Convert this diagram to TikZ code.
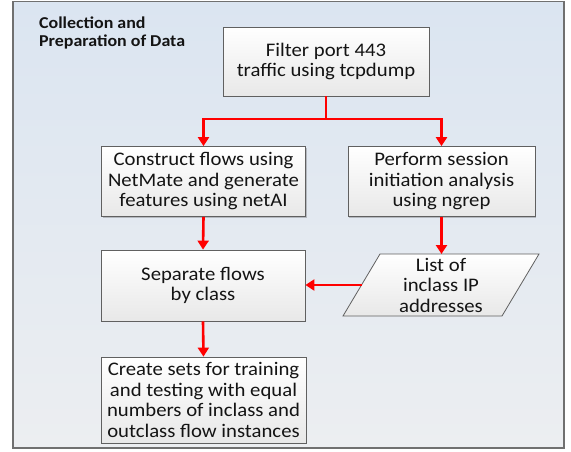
\documentclass[tikz,border=0pt]{standalone}
\usepackage{fontspec}
\setmainfont{Carlito}[FakeStretch=1.08]
\usetikzlibrary{arrows.meta,shadows,calc}
\definecolor{bgtop}{RGB}{219,229,241}
\definecolor{bgbot}{RGB}{236,238,241}
\definecolor{framegray}{RGB}{112,112,112}
\definecolor{boxline}{RGB}{96,96,96}
\definecolor{boxbot}{RGB}{232,232,232}
\definecolor{arrowred}{RGB}{255,0,0}
\definecolor{txt}{RGB}{20,20,20}
\begin{document}
\begin{tikzpicture}[x=1pt,y=-1pt,
  stepbox/.style={draw=boxline, line width=0.8pt, top color=white, bottom color=boxbot,
    align=center, inner sep=2pt, text=txt, font=\fontsize{19.2}{20.5}\selectfont,
    drop shadow={shadow xshift=1.2pt, shadow yshift=-1.2pt, opacity=0.3, fill=black!70}},
  shapebox/.style={draw=boxline, line width=0.8pt, top color=white, bottom color=boxbot},
  flow/.style={draw=arrowred, line width=2.6pt, -{Triangle[length=9pt,width=11pt]}},
  lbl/.style={align=center, inner sep=0pt, text=txt, font=\fontsize{19.2}{20.5}\selectfont},
]
\useasboundingbox (0,0) rectangle (571,451);
% frame
\draw[draw=framegray, line width=1.2pt, top color=bgtop, bottom color=bgbot] (13,1.5) rectangle (564,448);
% title
\node[anchor=north west, inner sep=0pt, align=left, text=txt,
      font=\fontsize{16.6}{18}\selectfont\bfseries] (title) at (39,17) {Collection and\\Preparation of Data};
% boxes
\node[stepbox, minimum width=206pt, minimum height=69pt] (top) at (326,61.5)
  {Filter port 443\\traffic using tcpdump};
\node[stepbox, minimum width=204pt, minimum height=70pt] (b2) at (203.5,181.5)
  {Construct flows using\\NetMate and generate\\features using netAI};
\node[stepbox, minimum width=187pt, minimum height=70pt] (b3) at (441.5,181.5)
  {Perform session\\initiation analysis\\using ngrep};
\node[stepbox, minimum width=204pt, minimum height=71pt] (b4) at (203,285.5)
  {Separate flows\\by class};
\node[stepbox, minimum width=205pt, minimum height=86pt] (b5) at (203.5,400)
  {Create sets for training\\and testing with equal\\numbers of inclass and\\outclass flow instances};
% parallelogram
\coordinate (pTL) at (380,254);
\coordinate (pTR) at (539,254);
\coordinate (pBR) at (502,316);
\coordinate (pBL) at (343,316);
\coordinate (pL) at ($(pTL)!0.5!(pBL)$);
\coordinate (pT) at (441.5,254);
\draw[shapebox] (pTL) -- (pTR) -- (pBR) -- (pBL) -- cycle;
\node[lbl] (para) at (441,285) {List of\\inclass IP\\addresses};
% connectors
\coordinate (j) at (326,119);
\draw[flow] (top.south) -- (top.south |- j) -| (b2.north);
\draw[flow] (top.south) -- (top.south |- j) -| (b3.north);
\draw[flow] (b2.south) -- (b4.north);
\draw[flow] (b3.south) -- (pT);
\draw[flow] (pL) -- (pL -| b4.east);
\draw[flow] (b4.south) -- (b5.north);
\end{tikzpicture}
\end{document}
